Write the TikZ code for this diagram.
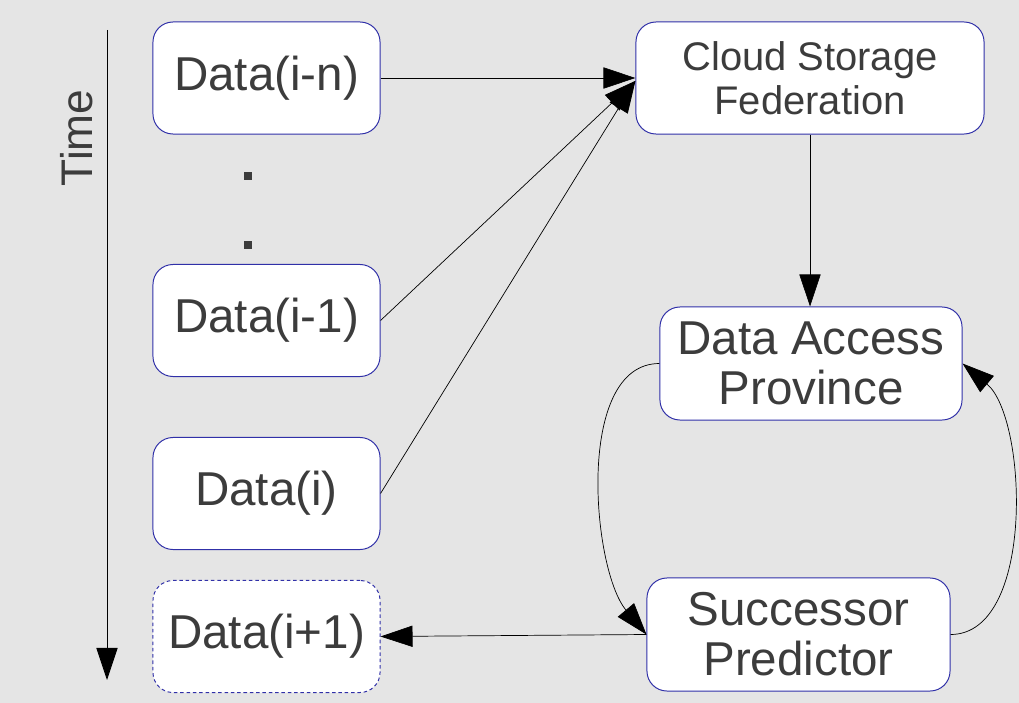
\documentclass[tikz,border=0pt]{standalone}
\usepackage{fontspec}
\setmainfont{Liberation Sans}
\usetikzlibrary{positioning,arrows.meta}
\definecolor{canvas}{HTML}{E5E5E5}
\definecolor{ink}{HTML}{3C3C3C}
\definecolor{frame}{HTML}{3030A8}

\begin{document}
\begin{tikzpicture}[x=0.025cm, y=0.025cm, >={Triangle[length=0.8cm,width=0.53cm]},
  box/.style={draw=frame, line width=0.7pt, fill=white, rounded corners=0.5cm, text=ink,
    align=center, inner sep=0pt, font=\fontsize{33.8}{35.6}\selectfont},
  databox/.style={box, minimum width=5.675cm, minimum height=2.8cm},
  link/.style={->, line width=0.5pt, black},
  dot/.style={fill=ink, inner sep=0pt, minimum size=0.2cm}]
  % background and frame of the page
  \fill[canvas] (0,0) rectangle (1019,-703);
  \useasboundingbox (0,0) rectangle (1019,-703);

  % time axis
  \coordinate (tstart) at (107,-30);
  \coordinate (tend) at (107,-680);
  \draw[link, line width=0.6pt] (tstart) -- (tend);
  \node[rotate=90, text=ink, font=\fontsize{31.5}{34}\selectfont] (timelbl) at (77,-138) {Time};

  % data items along time
  \node[databox] (din) at (266.5,-78) {Data(i-n)};
  \node[dot] (dotA) at (248,-176) {};
  \node[dot] (dotB) at (248,-245) {};
  \node[databox] (dprev) at (266.5,-320.5) {Data(i-1)};
  \node[databox] (dcur) at (266.5,-493.5) {Data(i)};
  \node[databox, dash pattern=on 2.5pt off 2pt] (dnext) at (266.5,-636.5) {Data(i+1)};

  % right column
  \node[box, minimum width=8.7cm, minimum height=2.8cm, font=\fontsize{28.4}{31.3}\selectfont]
    (cloud) at (810,-78) {Cloud Storage\\Federation};
  \node[box, minimum width=7.55cm, minimum height=2.825cm] (dap) at (811,-363.5) {Data Access\\Province};
  \node[box, minimum width=7.575cm, minimum height=2.825cm] (sp) at (798.5,-634.5) {Successor\\Predictor};

  % connectors
  \draw[link] (din.east) -- (cloud.west);
  \draw[link] (dprev.east) -- ([yshift=-2pt]cloud.west);
  \draw[link] (dcur.east) -- ([yshift=-2pt]cloud.west);
  \draw[link] (cloud.south) -- (cloud.south |- dap.north);
  \draw[link] (sp.west) -- (dnext.east);
  \draw[link] (dap.west) to[out=180, in=130, looseness=0.8] (sp.west);
  \draw[link] (sp.east) to[out=0, in=-40, looseness=0.8] (dap.east);
\end{tikzpicture}
\end{document}
